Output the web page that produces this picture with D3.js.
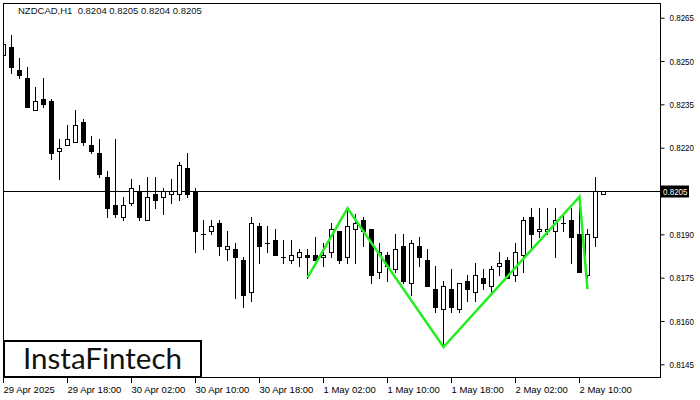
<!DOCTYPE html>
<html><head><meta charset="utf-8">
<script src="https://cdn.jsdelivr.net/npm/d3@7"></script>
<style>html,body{margin:0;padding:0;background:#fff;} svg{display:block;}</style>
</head><body><svg id="c" width="700" height="400"></svg>
<script>
// ---- data (NZDCAD H1) ----
const openP  = [0.8252,0.8255,0.8247,0.8244,0.8233,0.8237,0.8236,0.8219,0.8221,0.8222,
                0.8229,0.8221,0.8218,0.8210,0.8200,0.8196,0.8201,0.8205,0.8195,0.8204,
                0.8203,0.8204,0.8204,0.8213,0.8205,0.8190,0.8191,0.8194,0.8185,0.8185,
                0.8181,0.8170,0.8193,0.8187,0.8188,0.8182,0.8181,0.8182,0.8183,0.8183,
                0.8182,0.8184,0.8191,0.8182,0.8192,0.8195,0.8192,0.8177,0.8183,0.8178,
                0.8186,0.8173,0.8186,0.8181,0.8171,0.8164,0.8171,0.8164,0.8174,0.8170,
                0.8175,0.8172,0.8179,0.8181,0.8176,0.8183,0.8196,0.8191,0.8191,0.8191,
                0.8194,0.8195,0.8190,0.8176,0.8189,0.8204];
const highP  = [0.8257,0.8259,0.8251,0.8248,0.8241,0.8244,0.8237,0.8223,0.8228,0.8233,
                0.8230,0.8224,0.8223,0.8212,0.8223,0.8203,0.8209,0.8207,0.8210,0.8210,
                0.8206,0.8209,0.8215,0.8218,0.8206,0.8195,0.8195,0.8195,0.8191,0.8187,
                0.8182,0.8196,0.8194,0.8193,0.8192,0.8188,0.8188,0.8185,0.8185,0.8189,
                0.8187,0.8194,0.8191,0.8198,0.8197,0.8196,0.8192,0.8187,0.8184,0.8190,
                0.8190,0.8188,0.8189,0.8185,0.8179,0.8174,0.8178,0.8173,0.8176,0.8180,
                0.8178,0.8179,0.8184,0.8182,0.8187,0.8196,0.8199,0.8199,0.8199,0.8199,
                0.8197,0.8199,0.8203,0.8192,0.8210,0.8205];
const lowP   = [0.8247,0.8246,0.8244,0.8234,0.8233,0.8234,0.8216,0.8209,0.8221,0.8222,
                0.8221,0.8218,0.8210,0.8196,0.8196,0.8195,0.8200,0.8195,0.8195,0.8199,
                0.8197,0.8201,0.8202,0.8203,0.8184,0.8185,0.8190,0.8183,0.8181,0.8168,
                0.8165,0.8167,0.8180,0.8184,0.8183,0.8180,0.8180,0.8179,0.8175,0.8181,
                0.8179,0.8182,0.8180,0.8180,0.8180,0.8186,0.8173,0.8175,0.8174,0.8177,
                0.8173,0.8169,0.8179,0.8172,0.8163,0.8151,0.8163,0.8163,0.8167,0.8167,
                0.8171,0.8170,0.8176,0.8175,0.8174,0.8177,0.8185,0.8189,0.8190,0.8182,
                0.8191,0.8180,0.8177,0.8175,0.8186,0.8204];
const closeP = [0.8256,0.8248,0.8245,0.8234,0.8236,0.8235,0.8218,0.8220,0.8223,0.8228,
                0.8222,0.8219,0.8211,0.8199,0.8197,0.8200,0.8206,0.8196,0.8203,0.8202,
                0.8205,0.8205,0.8214,0.8204,0.8191,0.8190,0.8193,0.8186,0.8186,0.8182,
                0.8169,0.8194,0.8186,0.8187,0.8183,0.8182,0.8183,0.8184,0.8182,0.8181,
                0.8183,0.8192,0.8181,0.8193,0.8194,0.8191,0.8176,0.8184,0.8179,0.8185,
                0.8174,0.8187,0.8182,0.8172,0.8165,0.8172,0.8165,0.8173,0.8171,0.8176,
                0.8173,0.8178,0.8180,0.8175,0.8184,0.8195,0.8190,0.8192,0.8192,0.8195,
                0.8194,0.8189,0.8177,0.8190,0.8205,0.8205];
const startHour = new Date(2025, 3, 29, 10);
const yTicks = [0.8145,0.8160,0.8175,0.8190,0.8205,0.8220,0.8235,0.8250,0.8265];
const xTickLabels = ["29 Apr 2025","29 Apr 18:00","30 Apr 02:00","30 Apr 10:00","30 Apr 18:00",
                     "1 May 02:00","1 May 10:00","1 May 18:00","2 May 02:00","2 May 10:00"];
const patternIdx   = [38, 43, 55, 72, 73];
const patternPrice = [0.8175, 0.8199, 0.8151, 0.8203, 0.8171];
const lastPrice = 0.8205;
const titleText = "NZDCAD,H1  0.8204 0.8205 0.8204 0.8205";
const logoText = "InstaFintech";

// ---- drawing ----
const svg = d3.select("#c");
const FONT = "Liberation Sans, Arial, sans-serif";
const L = 3, R = 660, T = 3, B = 378;

const hours = d3.timeHour.range(startHour, d3.timeHour.offset(startHour, openP.length));
const candles = hours.map((t, i) => ({t, i, o: openP[i], h: highP[i], l: lowP[i], c: closeP[i]}));

const x = d3.scaleTime().domain([hours[0], hours[hours.length - 1]]).range([3, 603]);
const y = d3.scaleLinear().domain([0.8145, 0.8265]).range([364.3, 17.7]);
const cx = d => Math.round(x(d)) + 0.5;

svg.append("defs").append("clipPath").attr("id", "plot")
  .append("rect").attr("x", L).attr("y", T).attr("width", R - L).attr("height", B - T);

// current price line
svg.append("line").attr("x1", L).attr("x2", R + 0.5)
  .attr("y1", Math.round(y(lastPrice)) + 0.5).attr("y2", Math.round(y(lastPrice)) + 0.5)
  .attr("stroke", "#000").attr("stroke-width", 1);

const g = svg.append("g").attr("clip-path", "url(#plot)");
const cg = g.selectAll("g.candle").data(candles).join("g").attr("class", "candle");
cg.append("line")
  .attr("x1", d => cx(d.t)).attr("x2", d => cx(d.t))
  .attr("y1", d => Math.round(y(d.h))).attr("y2", d => Math.round(y(d.l)) + 1)
  .attr("stroke", "#000").attr("stroke-width", 1);
cg.each(function(d) {
  const sel = d3.select(this);
  const top = Math.round(y(Math.max(d.o, d.c)));
  const bot = Math.round(y(Math.min(d.o, d.c)));
  const c = cx(d.t);
  if (d.c > d.o) {
    sel.append("rect").attr("x", c - 2).attr("y", top + 0.5)
      .attr("width", 4).attr("height", Math.max(1, bot - top))
      .attr("fill", "#fff").attr("stroke", "#000").attr("stroke-width", 1);
  } else {
    sel.append("rect").attr("x", c - 2.5).attr("y", top)
      .attr("width", 5).attr("height", Math.max(1, bot - top + 1))
      .attr("fill", "#000");
  }
});

// pattern
g.append("path")
  .datum(patternIdx.map((k, j) => [hours[k], patternPrice[j]]))
  .attr("d", d3.line().x(d => cx(d[0])).y(d => y(d[1])))
  .attr("fill", "none").attr("stroke", "#22ee22").attr("stroke-width", 2.5)
  .attr("stroke-linejoin", "miter");

// frame
svg.append("rect").attr("x", L + 0.5).attr("y", T + 0.5)
  .attr("width", R - L).attr("height", B - T - 1)
  .attr("fill", "none").attr("stroke", "#000").attr("stroke-width", 1);

// y axis (the label at the last price is replaced by the price tag)
const ya = svg.append("g").attr("transform", `translate(${R + 0.5},0)`)
  .call(d3.axisRight(y).tickValues(yTicks).tickSize(4).tickPadding(5)
    .tickFormat(d => Math.abs(d - lastPrice) < 1e-9 ? "" : d3.format(".4f")(d)));
ya.select(".domain").remove();
ya.selectAll("text").filter(function() { return this.textContent !== ""; })
  .attr("font-family", FONT).attr("font-size", 9.5).attr("fill", "#000")
  .attr("textLength", 24.5).attr("lengthAdjust", "spacingAndGlyphs");
ya.selectAll("text").filter(function() { return this.textContent === ""; }).remove();

// current price tag
const py = Math.round(y(lastPrice)) + 0.5;
svg.append("rect").attr("x", R + 1).attr("y", py - 6).attr("width", 28).attr("height", 12).attr("fill", "#000");
svg.append("text").attr("x", R + 3).attr("y", py).attr("dy", "0.35em")
  .attr("font-family", FONT).attr("font-size", 9.5).attr("fill", "#fff")
  .attr("textLength", 24.5).attr("lengthAdjust", "spacingAndGlyphs")
  .text(d3.format(".4f")(lastPrice));

// x axis
const tickTimes = hours.filter((d, i) => i % 8 === 0);
const xa = svg.append("g").attr("transform", `translate(0,${B})`)
  .call(d3.axisBottom(x).tickValues(tickTimes).tickSize(5).tickPadding(3)
    .tickFormat((d, i) => xTickLabels[i]));
xa.select(".domain").remove();
xa.selectAll("text").attr("text-anchor", "start").attr("font-family", FONT)
  .attr("font-size", 9.5).attr("fill", "#000");

// title
svg.append("text").attr("x", 18).attr("y", 14).style("white-space", "pre")
  .attr("font-family", FONT).attr("font-size", 9.5).attr("fill", "#111")
  .text(titleText);

// logo
svg.append("rect").attr("x", 4).attr("y", 341).attr("width", 197).attr("height", 36)
  .attr("fill", "#fff").attr("stroke", "#000").attr("stroke-width", 2);
svg.append("text").attr("x", 23).attr("y", 369)
  .attr("font-family", "Lato, Open Sans, sans-serif").attr("font-size", 28)
  .attr("textLength", 159).attr("lengthAdjust", "spacingAndGlyphs")
  .attr("fill", "#111").text(logoText);
</script></body></html>
